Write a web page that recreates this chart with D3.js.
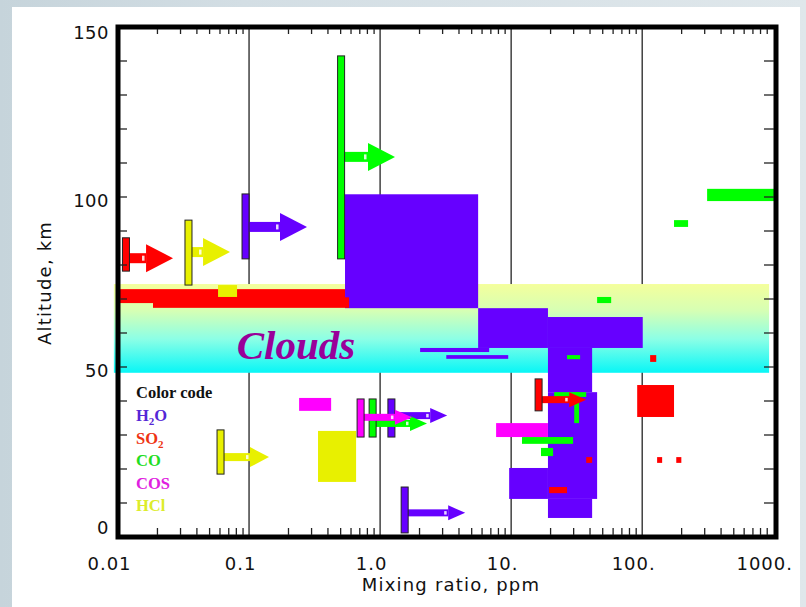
<!DOCTYPE html>
<html>
<head>
<meta charset="utf-8">
<script src="https://cdn.jsdelivr.net/npm/d3@7"></script>
<style>
  html, body { margin: 0; padding: 0; }
  body {
    width: 806px; height: 607px; overflow: hidden;
    background: linear-gradient(90deg, #c6d4db 0%, #d3dee4 30%, #dfe7eb 100%);
  }
  svg { display: block; }
</style>
</head>
<body>
<svg id="chart" width="806" height="607"></svg>
<script>
// ---- Data -------------------------------------------------------------
const species = ["H2O", "SO2", "CO", "COS", "HCl"];

const xTickValues = [0.01, 0.1, 1, 10, 100, 1000];
const xTickLabels = ["0.01", "0.1", "1.0", "10.", "100.", "1000."];
const yTickValues = [0, 50, 100, 150];
const gridValues = [0.1, 1, 10, 100];

// Measured mixing-ratio ranges (ppm) over altitude ranges (km)
const h2oRanges = [
  { lo: 0.54, hi: 5.6,  bottom: 67.3, top: 100.8 },
  { lo: 5.6,  hi: 19.1, bottom: 55.6, top: 67.3 },
  { lo: 19.1, hi: 101,  bottom: 55.6, top: 64.7 },
  { lo: 19.1, hi: 41.5, bottom: 42.6, top: 55.6 },
  { lo: 19.1, hi: 45.3, bottom: 11.2, top: 42.6 },
  { lo: 9.66, hi: 19.1, bottom: 11.2, top: 20.3 },
  { lo: 19.1, hi: 41.5, bottom: 5.6,  top: 11.2 },
  { lo: 2.02, hi: 6.8,  bottom: 54.4, top: 55.6 },
  { lo: 3.2,  hi: 9.5,  bottom: 52.4, top: 53.5 }
];
const so2Ranges = [
  { lo: 0.01,   hi: 0.54, bottom: 68.8, top: 72.9 },
  { lo: 0.0185, hi: 0.58, bottom: 67.4, top: 70.5 },
  { lo: 91.6,   hi: 175,  bottom: 35.3, top: 44.7 },
  { lo: 115,    hi: 128,  bottom: 51.5, top: 53.5 },
  { lo: 37.4,   hi: 41.5, bottom: 21.8, top: 23.5 },
  { lo: 130,    hi: 142,  bottom: 21.8, top: 23.5 },
  { lo: 182,    hi: 199,  bottom: 21.8, top: 23.5 },
  { lo: 19.5,   hi: 26.7, bottom: 12.9, top: 14.7 }
];
const coRanges = [
  { lo: 313,  hi: 1050, bottom: 98.8, top: 102.4 },
  { lo: 175,  hi: 224,  bottom: 91.2, top: 93.2 },
  { lo: 45.3, hi: 58,   bottom: 68.8, top: 70.6 },
  { lo: 26.7, hi: 33.6, bottom: 52.3, top: 53.5 },
  { lo: 21.3, hi: 37.4, bottom: 41.2, top: 42.6 },
  { lo: 30.3, hi: 33.0, bottom: 33.5, top: 42.6 },
  { lo: 12.1, hi: 29.7, bottom: 27.4, top: 29.4 },
  { lo: 16.9, hi: 20.9, bottom: 23.8, top: 26.2 }
];
const cosRanges = [
  { lo: 0.241, hi: 0.423, bottom: 37.1, top: 40.9 },
  { lo: 7.68,  hi: 19.1,  bottom: 29.4, top: 33.5 }
];
const hclRanges = [
  { lo: 0.058, hi: 0.081, bottom: 70.6, top: 74.1 },
  { lo: 0.336, hi: 0.656, bottom: 16.2, top: 31.2 }
];

// Lower limits: value (ppm) over an altitude span, arrow pointing to larger ratios
const lowerLimits = [
  { gas: "H2O", value: 0.094,  bottom: 81.8, top: 100.9, at: 91.2,  to: 0.277 },
  { gas: "H2O", value: 1.22,   bottom: 29.4, top: 40.6,  at: 35.7,  to: 3.25 },
  { gas: "H2O", value: 1.54,   bottom: 1.2,  top: 14.7,  at: 7.1,   to: 4.46 },
  { gas: "CO",  value: 0.504,  bottom: 81.8, top: 141.5, at: 111.8, to: 1.30 },
  { gas: "CO",  value: 0.877,  bottom: 29.4, top: 40.6,  at: 33.4,  to: 2.28 },
  { gas: "COS", value: 0.71,   bottom: 29.4, top: 40.6,  at: 35.2,  to: 1.75 },
  { gas: "SO2", value: 0.0115, bottom: 78.2, top: 88.0,  at: 82.0,  to: 0.0263 },
  { gas: "SO2", value: 16.2,   bottom: 37.1, top: 46.5,  at: 40.4,  to: 37.4 },
  { gas: "HCl", value: 0.0345, bottom: 74.1, top: 93.2,  at: 83.8,  to: 0.0716 },
  { gas: "HCl", value: 0.0606, bottom: 18.5, top: 31.5,  at: 23.5,  to: 0.142 }
];

// Cloud deck extent
const cloudLayer = { lo: 0.0093, hi: 930, bottom: 48.3, top: 74.4 };

// ---- Styling ----------------------------------------------------------
const markColor = { H2O: "#6600ff", SO2: "#ff0000", CO: "#00ff00", COS: "#ff00ff", HCl: "#e8f000" };
const legendColor = { H2O: "#5526d6", SO2: "#ee3312", CO: "#22dd22", COS: "#e020e0", HCl: "#dcec2a" };
const glyph = {
  large:  { head: 28, len: 27, shaft: 10 },
  medium: { head: 20, len: 19, shaft: 8 },
  small:  { head: 15, len: 17, shaft: 7 }
};
const glyphOf = ["large", "small", "small", "large", "small", "small", "large", "small", "large", "medium"];

// ---- Scales -----------------------------------------------------------
const svg = d3.select("#chart");
const x = d3.scaleLog().domain([0.01, 1050]).range([118, 776]);
const y = d3.scaleLinear().domain([0, 150]).range([537, 27]);

// white page panel
svg.append("rect").attr("x", 12).attr("y", 7).attr("width", 788).attr("height", 600).attr("fill", "#ffffff");

// decade grid lines
svg.append("g").selectAll("line").data(gridValues).join("line")
  .attr("x1", d => x(d)).attr("x2", d => x(d))
  .attr("y1", y(150)).attr("y2", y(0))
  .attr("stroke", "#111").attr("stroke-width", 1.2);

// cloud deck
const defs = svg.append("defs");
const grad = defs.append("linearGradient").attr("id", "cloudGrad")
  .attr("x1", 0).attr("y1", 0).attr("x2", 0).attr("y2", 1);
[[0, "#f4ff9c"], [0.3, "#d6ffb4"], [0.62, "#8cffe6"], [1, "#08f6f6"]].forEach(([o, c]) =>
  grad.append("stop").attr("offset", o).attr("stop-color", c));
svg.append("rect")
  .attr("x", x(cloudLayer.lo)).attr("width", x(cloudLayer.hi) - x(cloudLayer.lo))
  .attr("y", y(cloudLayer.top)).attr("height", y(cloudLayer.bottom) - y(cloudLayer.top))
  .attr("fill", "url(#cloudGrad)");

svg.append("text")
  .attr("x", 296).attr("y", 359)
  .attr("text-anchor", "middle")
  .attr("font-family", "'Liberation Serif', 'Times New Roman', serif")
  .attr("font-weight", "bold").attr("font-style", "italic")
  .attr("font-size", 41).attr("fill", "#990099")
  .text("Clouds");

// measured ranges
const rangeSets = [["H2O", h2oRanges], ["SO2", so2Ranges], ["CO", coRanges], ["COS", cosRanges], ["HCl", hclRanges]];
rangeSets.forEach(([gas, rows]) => {
  svg.append("g").selectAll("rect").data(rows).join("rect")
    .attr("x", d => x(d.lo)).attr("width", d => x(d.hi) - x(d.lo))
    .attr("y", d => y(d.top)).attr("height", d => y(d.bottom) - y(d.top))
    .attr("fill", markColor[gas]);
});

// lower-limit bars with arrows
const drawOrder = ["H2O", "CO", "COS", "SO2", "HCl"];
const limitItems = lowerLimits.map((d, i) => ({ ...d, g: glyph[glyphOf[i]] }))
  .sort((a, b) => drawOrder.indexOf(a.gas) - drawOrder.indexOf(b.gas));
const lim = svg.append("g").selectAll("g").data(limitItems).join("g");
lim.each(function (d) {
  const g = d3.select(this);
  const c = markColor[d.gas];
  const bx = x(d.value), ya = y(d.at), tip = x(d.to);
  const baseX = tip - d.g.len;
  g.append("rect")
    .attr("x", bx + 3).attr("width", Math.max(0, baseX - bx - 3))
    .attr("y", ya - d.g.shaft / 2).attr("height", d.g.shaft)
    .attr("fill", c);
  g.append("rect")
    .attr("x", baseX - 4).attr("width", 2.5)
    .attr("y", ya - d.g.shaft * 0.25).attr("height", d.g.shaft * 0.5)
    .attr("fill", "#ffffff").attr("opacity", 0.85);
  g.append("path")
    .attr("d", `M${baseX},${ya - d.g.head / 2}L${tip},${ya}L${baseX},${ya + d.g.head / 2}Z`)
    .attr("fill", c);
  g.append("rect")
    .attr("x", bx - 3.5).attr("width", 7)
    .attr("y", y(d.top)).attr("height", y(d.bottom) - y(d.top))
    .attr("fill", c).attr("stroke", "#222").attr("stroke-width", 1);
});

// frame
svg.append("rect")
  .attr("x", x(0.01)).attr("y", y(150))
  .attr("width", x(1050) - x(0.01)).attr("height", y(0) - y(150))
  .attr("fill", "none").attr("stroke", "#000").attr("stroke-width", 5);

// altitude ticks on both sides
const altTicks = d3.range(10, 150, 10);
const tk = svg.append("g").attr("stroke", "#222").attr("stroke-width", 1.3);
tk.selectAll("line.l").data(altTicks).join("line").attr("class", "l")
  .attr("x1", x(0.01) + 2).attr("x2", x(0.01) + 9).attr("y1", d => y(d)).attr("y2", d => y(d));
tk.selectAll("line.r").data(altTicks).join("line").attr("class", "r")
  .attr("x1", x(1050) - 2).attr("x2", x(1050) - 12).attr("y1", d => y(d)).attr("y2", d => y(d));

// minor ratio ticks, top and bottom
const minor = [];
[0.01, 0.1, 1, 10, 100, 1000].forEach(dec => {
  for (let k = 2; k <= 9; k++) if (dec * k <= 1050) minor.push(dec * k);
});
tk.selectAll("line.b").data(minor).join("line").attr("class", "b")
  .attr("x1", d => x(d)).attr("x2", d => x(d)).attr("y1", y(0) - 2).attr("y2", y(0) - 9);
tk.selectAll("line.t").data(minor).join("line").attr("class", "t")
  .attr("x1", d => x(d)).attr("x2", d => x(d)).attr("y1", y(150) + 2).attr("y2", y(150) + 7);

// axes labels
const sans = "'DejaVu Sans', 'Liberation Sans', sans-serif";
const xAxis = svg.append("g").attr("transform", `translate(0,${y(0)})`)
  .call(d3.axisBottom(x).tickValues(xTickValues).tickFormat((d, i) => xTickLabels[i]).tickSize(0).tickPadding(20));
xAxis.select(".domain").remove();
xAxis.selectAll("text")
  .attr("font-family", sans).attr("font-size", 18).attr("letter-spacing", 1)
  .attr("fill", "#111").attr("dx", -9);

const yAxis = svg.append("g").attr("transform", `translate(${x(0.01)},0)`)
  .call(d3.axisLeft(y).tickValues(yTickValues).tickSize(0).tickPadding(9));
yAxis.select(".domain").remove();
yAxis.selectAll("text")
  .attr("font-family", sans).attr("font-size", 18).attr("letter-spacing", 0.5)
  .attr("fill", "#111")
  .attr("dy", d => d === 0 ? "-0.2em" : d === 150 ? "0.65em" : "0.5em");

svg.append("text")
  .attr("x", 451).attr("y", 591).attr("text-anchor", "middle")
  .attr("font-family", sans).attr("font-size", 18).attr("letter-spacing", 1.2).attr("fill", "#111")
  .text("Mixing ratio, ppm");
svg.append("text")
  .attr("transform", "translate(51,283) rotate(-90)").attr("text-anchor", "middle")
  .attr("font-family", sans).attr("font-size", 18).attr("letter-spacing", 1.2).attr("fill", "#111")
  .text("Altitude, km");

// colour code legend
const serif = "'Liberation Serif', 'Times New Roman', serif";
const leg = svg.append("g").attr("font-family", serif).attr("font-weight", "bold").attr("font-size", 16.5);
leg.append("text").attr("x", 136).attr("y", 398).attr("fill", "#111").text("Color code");
const legendNames = { H2O: ["H", "2", "O"], SO2: ["SO", "2", ""], CO: ["CO"], COS: ["COS"], HCl: ["HCl"] };
species.forEach((s, i) => {
  const t = leg.append("text").attr("x", 136).attr("y", 421 + i * 22.5).attr("fill", legendColor[s]);
  const parts = legendNames[s];
  t.append("tspan").text(parts[0]);
  if (parts.length > 1) {
    t.append("tspan").attr("dy", 4).attr("font-size", 11).text(parts[1]);
    if (parts[2]) t.append("tspan").attr("dy", -4).text(parts[2]);
  }
});
</script>
</body>
</html>
